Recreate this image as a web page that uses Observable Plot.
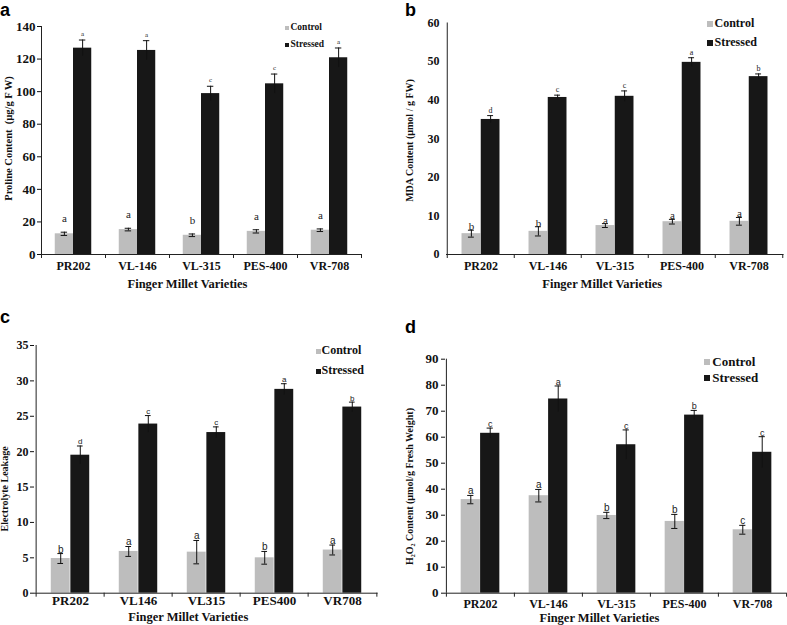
<!DOCTYPE html>
<html>
<head>
<meta charset="utf-8">
<script src="https://cdn.jsdelivr.net/npm/d3@7"></script>
<script src="https://cdn.jsdelivr.net/npm/@observablehq/plot@0.6"></script>
<style>
  html, body { margin: 0; padding: 0; background: #fff; }
  #page { position: relative; width: 787px; height: 625px; overflow: hidden; background: #fff; }
  .panel { position: absolute; }
  .panel svg { display: block; }
  .lbl { position: absolute; font-family: "Liberation Sans", Arial, sans-serif; font-weight: bold; font-size: 18px; line-height: normal; color: #000; }
  .leg { position: absolute; font-family: "Liberation Serif", "Times New Roman", serif; font-weight: bold; line-height: 1; color: #111; white-space: nowrap; }
  .sw { position: absolute; }
</style>
</head>
<body>
<div id="page"></div>
<script>
// ---------- data ----------
const varieties = ["PR202", "VL-146", "VL-315", "PES-400", "VR-708"];
const varietiesC = ["PR202", "VL146", "VL315", "PES400", "VR708"];
const seriesNames = ["Control", "Stressed"];
const xTitle = "Finger Millet Varieties";

// (a) Proline
const prolineControl = [12.7, 15.3, 11.8, 14.2, 14.9];
const prolineControlErr = [1.0, 0.8, 0.8, 1.0, 0.8];
const prolineStressed = [126.7, 125.3, 98.8, 104.8, 120.8];
const prolineStressedErr = [5, 6, 4.5, 6, 6];
const prolineControlSig = ["a", "a", "b", "a", "a"];
const prolineStressedSig = ["a", "a", "c", "c", "a"];
const prolineTicks = [0, 20, 40, 60, 80, 100, 120, 140];
const prolineLabel = "Proline Content  (µg/g F W)";

// (b) MDA
const mdaControl = [5.4, 6.0, 7.5, 8.5, 8.6];
const mdaControlErr = [0.9, 1.2, 0.5, 0.6, 1.0];
const mdaStressed = [35.0, 40.7, 41.0, 49.8, 46.1];
const mdaStressedErr = [1.0, 0.6, 1.4, 1.2, 0.7];
const mdaControlSig = ["b", "b", "a", "a", "a"];
const mdaStressedSig = ["d", "c", "c", "a", "b"];
const mdaTicks = [0, 10, 20, 30, 40, 50, 60];
const mdaLabel = "MDA Content (µmol / g FW)";

// (c) Electrolyte leakage
const elControl = [4.9, 5.9, 5.8, 5.0, 6.1];
const elControlErr = [0.7, 0.7, 1.65, 0.9, 0.7];
const elStressed = [19.5, 23.9, 22.7, 28.8, 26.3];
const elStressedErr = [1.3, 1.2, 0.8, 0.8, 0.7];
const elControlSig = ["b", "a", "a", "b", "a"];
const elStressedSig = ["d", "c", "c", "a", "b"];
const elTicks = [0, 5, 10, 15, 20, 25, 30, 35];
const elLabel = "Electrolyte Leakage";

// (d) H2O2
const h2o2Control = [36.0, 37.5, 29.9, 27.6, 24.4];
const h2o2ControlErr = [1.6, 2.4, 1.2, 2.7, 1.7];
const h2o2Stressed = [61.5, 74.7, 57.1, 68.5, 54.2];
const h2o2StressedErr = [2.0, 5.0, 5.7, 1.8, 6.0];
const h2o2ControlSig = ["a", "a", "b", "b", "c"];
const h2o2StressedSig = ["c", "a", "c", "b", "c"];
const h2o2Ticks = [0, 10, 20, 30, 40, 50, 60, 70, 80, 90];
const h2o2Label = "H₂O₂ Content (µmol/g Fresh Weight)";

// ---------- styles ----------
const CONTROL_FILL = "#bdbdbd";
const STRESSED_FILL = "#171717";
const SERIF = "'Liberation Serif', 'Times New Roman', serif";
const SANS = "'Liberation Sans', Arial, sans-serif";

const page = document.getElementById("page");

function panel(cfg) {
  const rows = cfg.cats.map((c, i) => ({
    cat: c,
    control: cfg.ctl[i], ce: cfg.ctlErr[i],
    stressed: cfg.str[i], se: cfg.strErr[i],
    cs: cfg.ctlSig[i], ss: cfg.strSig[i]
  }));
  const bw = (cfg.width - cfg.ml - cfg.mr) / cfg.cats.length;
  const barW = bw * 0.285;
  const cap = 3.2;
  const yMax = cfg.ticks[cfg.ticks.length - 1];
  const errStroke = "#111";

  const marks = [
    Plot.barY(rows, {x: "cat", y: "control", fill: CONTROL_FILL, insetLeft: bw / 2 - barW, insetRight: bw / 2}),
    Plot.barY(rows, {x: "cat", y: "stressed", fill: STRESSED_FILL, insetLeft: bw / 2, insetRight: bw / 2 - barW}),
    // error bars
    Plot.ruleX(rows, {x: "cat", y1: d => d.control - d.ce, y2: d => d.control + d.ce, dx: -barW / 2, stroke: errStroke, strokeWidth: 1}),
    Plot.tickY(rows, {x: "cat", y: d => d.control + d.ce, dx: -barW / 2, insetLeft: bw / 2 - cap, insetRight: bw / 2 - cap, stroke: errStroke}),
    Plot.tickY(rows, {x: "cat", y: d => d.control - d.ce, dx: -barW / 2, insetLeft: bw / 2 - cap, insetRight: bw / 2 - cap, stroke: errStroke}),
    Plot.ruleX(rows, {x: "cat", y1: d => d.stressed - d.se, y2: d => d.stressed + d.se, dx: barW / 2, stroke: errStroke, strokeWidth: 1}),
    Plot.tickY(rows, {x: "cat", y: d => d.stressed + d.se, dx: barW / 2, insetLeft: bw / 2 - cap, insetRight: bw / 2 - cap, stroke: errStroke}),
    // significance letters
    Plot.text(rows, {x: "cat", y: d => d.control + d.ce, text: "cs", dx: -barW / 2, dy: -cfg.gapC, lineAnchor: "bottom",
      fontSize: cfg.sigFontC, fontFamily: cfg.sigFamily, fontWeight: "normal", fill: "#222"}),
    Plot.text(rows, {x: "cat", y: d => d.stressed + d.se, text: "ss", dx: barW / 2, dy: -cfg.gapS, lineAnchor: "bottom",
      fontSize: cfg.sigFontS, fontFamily: cfg.sigFamily, fontWeight: "normal", fill: "#222"}),
    // axes lines
    Plot.ruleY([0], {stroke: "#222"}),
    Plot.ruleX([cfg.cats[0]], {x: d => d, dx: -bw / 2, y1: 0, y2: yMax, stroke: "#222"}),
    // category boundary ticks below the axis
    Plot.ruleX(cfg.cats, {x: d => d, dx: -bw / 2, y1: 0, y2: 0, insetBottom: -4, stroke: "#222"}),
    Plot.ruleX([cfg.cats[cfg.cats.length - 1]], {x: d => d, dx: bw / 2, y1: 0, y2: 0, insetBottom: -4, stroke: "#222"}),
    Plot.axisY({ticks: cfg.ticks, tickSize: cfg.tickSize, tickPadding: cfg.tickPad, fontSize: cfg.yFont, label: null, tickFormat: d => String(d)}),
    Plot.axisX({tickSize: 0, tickPadding: cfg.xPad, fontSize: cfg.xFont, label: null}),
    // titles
    Plot.text([xTitle], {text: d => d, frameAnchor: "bottom", dy: cfg.xtDy, dx: cfg.xtDx, lineAnchor: "bottom", fontSize: 12.5}),
    Plot.text([cfg.yLabel], {text: d => d, frameAnchor: "left", rotate: -90, dx: cfg.ytDx, dy: cfg.ytDy, lineAnchor: "middle", textAnchor: "middle", fontSize: cfg.ytFont})
  ];

  const svg = Plot.plot({
    width: cfg.width, height: cfg.height,
    marginLeft: cfg.ml, marginRight: cfg.mr, marginTop: cfg.mt, marginBottom: cfg.mb,
    style: {fontFamily: SERIF, fontWeight: "bold", background: "transparent", color: "#111", overflow: "visible"},
    x: {type: "band", domain: cfg.cats, padding: 0, axis: null},
    y: {domain: [0, yMax], axis: null},
    marks
  });
  const holder = document.createElement("div");
  holder.className = "panel";
  holder.style.left = cfg.left + "px";
  holder.style.top = cfg.top + "px";
  holder.appendChild(svg);
  page.appendChild(holder);

  // panel letter (line box top = baseline - ascent)
  const L = document.createElement("div");
  L.className = "lbl";
  L.textContent = cfg.letter;
  L.style.left = cfg.letterX + "px";
  L.style.top = Math.max(0, cfg.letterBase - 18 * 0.905) + "px";
  page.appendChild(L);

  // legend
  const fills = [CONTROL_FILL, STRESSED_FILL];
  seriesNames.forEach((name, i) => {
    const base = cfg.legBase[i];
    const sw = document.createElement("div");
    sw.className = "sw";
    sw.style.left = cfg.legSwX + "px";
    sw.style.top = (base - cfg.legSw - 0.5) + "px";
    sw.style.width = cfg.legSw + "px";
    sw.style.height = cfg.legSw + "px";
    sw.style.background = fills[i];
    page.appendChild(sw);
    const t = document.createElement("div");
    t.className = "leg";
    t.textContent = name;
    t.style.fontSize = cfg.legFont + "px";
    t.style.left = cfg.legTextX + "px";
    t.style.top = (base - 0.84 * cfg.legFont) + "px";
    page.appendChild(t);
  });
}

panel({
  left: 0, top: 0, width: 394, height: 300, ml: 41, mr: 33, mt: 26, mb: 46,
  cats: varieties, ctl: prolineControl, ctlErr: prolineControlErr, str: prolineStressed, strErr: prolineStressedErr,
  ctlSig: prolineControlSig, strSig: prolineStressedSig, ticks: prolineTicks, yLabel: prolineLabel,
  tickSize: 4, tickPad: 2, yFont: 13, xFont: 12, xPad: 6.5,
  xtDy: 33, xtDx: -14, ytDx: -33, ytDy: -2, ytFont: 10.5,
  gapC: 10, gapS: 4, sigFontC: 11, sigFontS: 7, sigFamily: SERIF,
  letter: "a", letterX: 0, letterBase: 16,
  legSwX: 284.5, legSw: 4.5, legTextX: 290.5, legBase: [30.5, 47.5], legFont: 9.5
});

panel({
  left: 393, top: 0, width: 394, height: 300, ml: 53, mr: 3.5, mt: 22.5, mb: 46,
  cats: varieties, ctl: mdaControl, ctlErr: mdaControlErr, str: mdaStressed, strErr: mdaStressedErr,
  ctlSig: mdaControlSig, strSig: mdaStressedSig, ticks: mdaTicks, yLabel: mdaLabel,
  tickSize: 0, tickPad: 7, yFont: 12, xFont: 12, xPad: 7,
  xtDy: 33, xtDx: -13, ytDx: -36.5, ytDy: 1.75, ytFont: 10,
  gapC: 0, gapS: 3, sigFontC: 11, sigFontS: 8, sigFamily: SERIF,
  letter: "b", letterX: 405, letterBase: 16,
  legSwX: 707, legSw: 6, legTextX: 714.5, legBase: [27.5, 46.5], legFont: 12
});

panel({
  left: 0, top: 300, width: 394, height: 325, ml: 34, mr: 16.4, mt: 45, mb: 32.3,
  cats: varietiesC, ctl: elControl, ctlErr: elControlErr, str: elStressed, strErr: elStressedErr,
  ctlSig: elControlSig, strSig: elStressedSig, ticks: elTicks, yLabel: elLabel,
  tickSize: 4, tickPad: 2, yFont: 12, xFont: 13, xPad: 3,
  xtDy: 28, xtDx: -18, ytDx: -29.5, ytDy: 19.6, ytFont: 10,
  gapC: 1, gapS: 1.5, sigFontC: 10, sigFontS: 8, sigFamily: SANS,
  letter: "c", letterX: 0, letterBase: 323,
  legSwX: 316, legSw: 5, legTextX: 321.5, legBase: [354.3, 374], legFont: 12
});

panel({
  left: 393, top: 300, width: 394, height: 325, ml: 52, mr: 1, mt: 58.7, mb: 32.3,
  cats: varieties, ctl: h2o2Control, ctlErr: h2o2ControlErr, str: h2o2Stressed, strErr: h2o2StressedErr,
  ctlSig: h2o2ControlSig, strSig: h2o2StressedSig, ticks: h2o2Ticks, yLabel: h2o2Label,
  tickSize: 4, tickPad: 3, yFont: 13, xFont: 12, xPad: 6.5,
  xtDy: 28.5, xtDx: -16.5, ytDx: -36, ytDy: 10.3, ytFont: 10,
  gapC: 1, gapS: 1, sigFontC: 10, sigFontS: 9, sigFamily: SANS,
  letter: "d", letterX: 405, letterBase: 333,
  legSwX: 703.7, legSw: 6, legTextX: 712.3, legBase: [365.7, 381.7], legFont: 13
});
</script>
</body>
</html>
